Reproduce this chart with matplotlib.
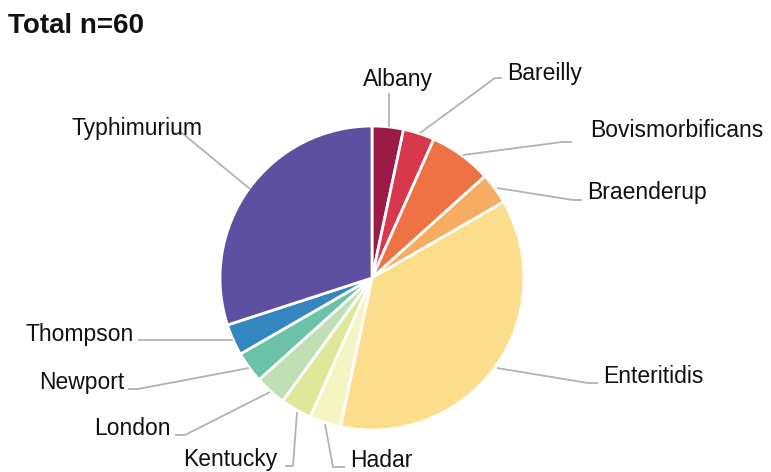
import matplotlib
matplotlib.use("Agg")
import matplotlib.pyplot as plt

# Serotype counts (total 60)
serotypes = ["Albany", "Bareilly", "Bovismorbificans", "Braenderup", "Enteritidis",
             "Hadar", "Kentucky", "London", "Newport", "Thompson", "Typhimurium"]
counts = [2, 2, 4, 2, 22, 2, 2, 2, 2, 2, 18]
colors = ["#9b1b46", "#d8384b", "#ef7244", "#f6ad62", "#fbdd8b",
          "#f5f5c4", "#dfe89a", "#bfdfb4", "#6cc2a9", "#3386bf", "#5e50a0"]
title = "Total n=60"

W, H = 771, 472
fig = plt.figure(figsize=(W / 100, H / 100), dpi=100)
ax = fig.add_axes([0, 0, 1, 1])

cx, cy, r = 372, H - 278, 152
ax.pie(counts, colors=colors, startangle=90, counterclock=False,
       center=(cx, cy), radius=r, frame=True,
       wedgeprops=dict(edgecolor="white", linewidth=2))
ax.set_xlim(0, W)
ax.set_ylim(0, H)
ax.set_aspect("equal")
ax.axis("off")

# Leader lines (pixel coords, y from top) and label anchors
leaders = {
    "Albany":           ([(389, 127), (389, 93)], (398, 86), "center"),
    "Bareilly":         ([(420, 133), (495, 78), (502, 78)], (507, 80), "left"),
    "Bovismorbificans": ([(463, 155), (562, 142), (572, 142)], (590, 137), "left"),
    "Braenderup":       ([(497, 188), (573, 200), (582, 200)], (587, 199), "left"),
    "Enteritidis":      ([(497, 368), (588, 383), (598, 383)], (603, 383), "left"),
    "Hadar":            ([(325, 424), (333, 467), (345, 467)], (350, 467), "left"),
    "Kentucky":         ([(297, 412), (293, 466), (285, 466)], (277, 466), "right"),
    "London":           ([(270, 392), (185, 435), (175, 435)], (171, 435), "right"),
    "Newport":          ([(249, 368), (138, 389), (128, 389)], (124, 389), "right"),
    "Thompson":         ([(233, 340), (138, 340)], (134, 341), "right"),
    "Typhimurium":      ([(250, 189), (182, 133), (172, 133)], (72, 135), "left"),
}

font = ["Liberation Sans", "DejaVu Sans"]
for name in serotypes:
    pts, (tx, ty), ha = leaders[name]
    xs = [p[0] for p in pts]
    ys = [H - p[1] for p in pts]
    ax.plot(xs, ys, color="#b3b3b3", linewidth=1.3, solid_capstyle="butt", zorder=1)
    ax.text(tx, H - ty, name, ha=ha, va="baseline", fontsize=16.5,
            family=font, color="#111111")

ax.text(8, H - 33, title, ha="left", va="baseline", fontsize=20,
        fontweight="bold", family=font, color="#111111")

fig.savefig("out.png", dpi=100)
